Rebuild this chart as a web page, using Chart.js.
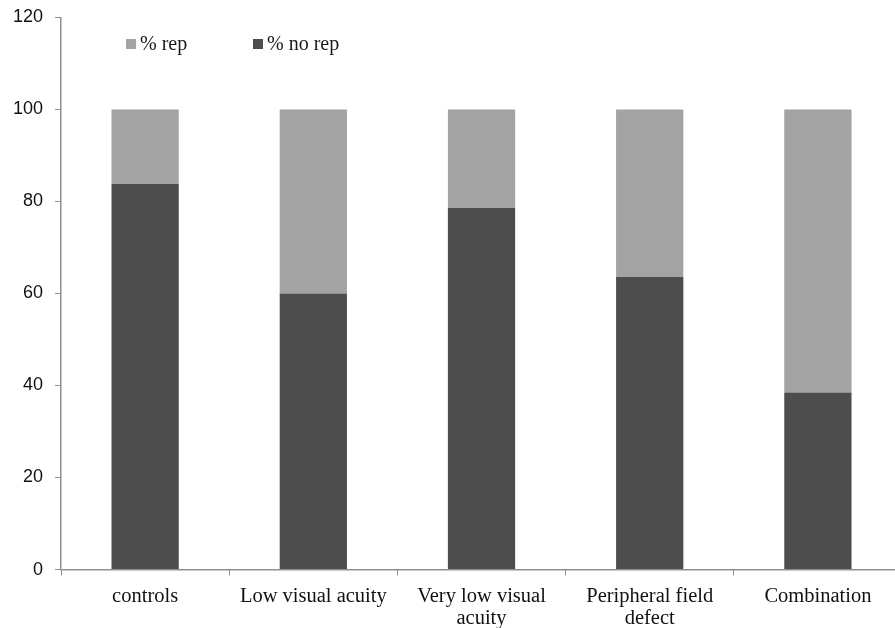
<!DOCTYPE html>
<html>
<head>
<meta charset="utf-8">
<script src="https://cdn.jsdelivr.net/npm/chart.js@4"></script>
<style>
  html, body { margin: 0; padding: 0; background: #fff; overflow: hidden; }
  #wrap { width: 910px; height: 628px; }
</style>
</head>
<body>
<div id="wrap"><canvas id="myChart" width="910" height="628"></canvas></div>
<script>
const categories = [
  "controls",
  "Low visual acuity",
  ["Very low visual", "acuity"],
  ["Peripheral field", "defect"],
  "Combination",
];
const noRep = [83.8, 60.0, 78.6, 63.6, 38.5];
const rep = [16.2, 40.0, 21.4, 36.4, 61.5];
const yTicks = [0, 20, 40, 60, 80, 100, 120];

const axisColor = "#8f8f8f";

// legend drawn inside the plot area, top left
const insideLegend = {
  id: "insideLegend",
  afterDraw(chart) {
    const c = chart.ctx;
    const items = [
      { ds: chart.data.datasets[1], box: 126 },
      { ds: chart.data.datasets[0], box: 253 },
    ];
    c.save();
    c.font = "20px 'Liberation Serif', serif";
    c.textBaseline = "middle";
    items.forEach((it) => {
      c.fillStyle = it.ds.backgroundColor;
      c.fillRect(it.box, 39, 10, 10);
      c.fillStyle = "#1a1a1a";
      c.fillText(it.ds.label, it.box + 14, 45);
    });
    c.restore();
  },
};

const ctx = document.getElementById("myChart");
new Chart(ctx, {
  type: "bar",
  data: {
    labels: categories,
    datasets: [
      {
        label: "% no rep",
        data: noRep,
        backgroundColor: "#4d4d4d",
        barPercentage: 0.4,
        categoryPercentage: 1,
      },
      {
        label: "% rep",
        data: rep,
        backgroundColor: "#a3a3a3",
        barPercentage: 0.4,
        categoryPercentage: 1,
      },
    ],
  },
  options: {
    responsive: false,
    animation: false,
    layout: { padding: { left: 1, top: 2, right: 8, bottom: -11 } },
    plugins: {
      legend: { display: false },
      tooltip: { enabled: false },
    },
    scales: {
      x: {
        stacked: true,
        grid: {
          offset: true,
          drawOnChartArea: false,
          tickLength: 6,
          color: axisColor,
        },
        border: { color: axisColor, width: 1.5 },
        ticks: {
          color: "#111",
          padding: 10,
          maxRotation: 0,
          autoSkip: false,
          font: { family: "'Liberation Serif', serif", size: 20.5, lineHeight: 1.06 },
        },
      },
      y: {
        stacked: true,
        min: 0,
        max: 120,
        afterBuildTicks: (axis) => {
          axis.ticks = yTicks.map((v) => ({ value: v }));
        },
        grid: {
          drawOnChartArea: false,
          tickLength: 6,
          color: axisColor,
        },
        border: { color: axisColor, width: 1.5 },
        ticks: {
          color: "#111",
          padding: 12,
          font: { family: "'Liberation Sans', Arial, sans-serif", size: 18, lineHeight: 0.6 },
        },
      },
    },
  },
  plugins: [insideLegend],
});
</script>
</body>
</html>
